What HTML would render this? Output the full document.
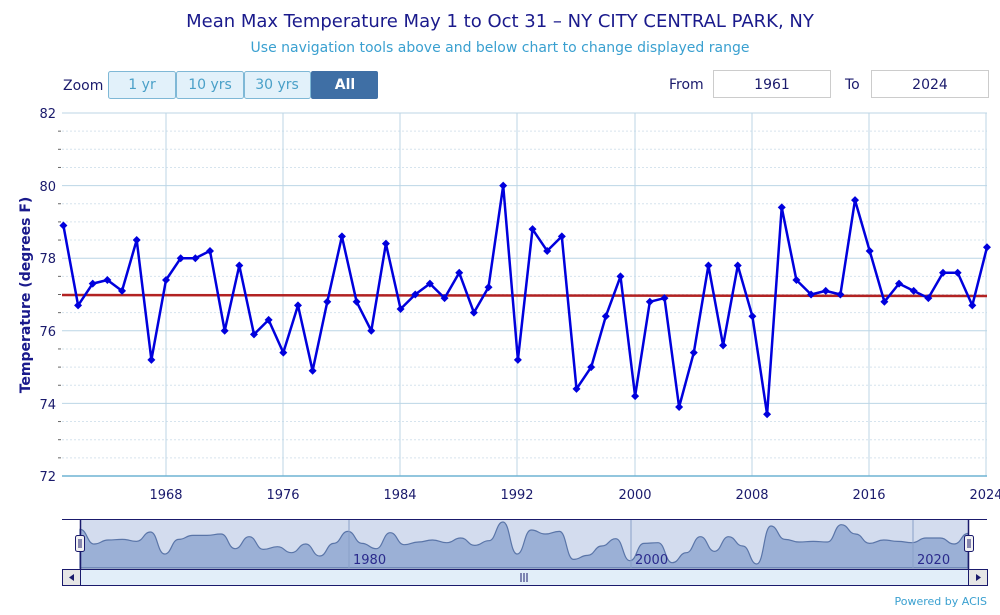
<!DOCTYPE html>
<html><head><meta charset="utf-8"><style>
body{margin:0;background:#fff;width:1000px;height:611px;overflow:hidden;font-family:"DejaVu Sans","Liberation Sans",sans-serif}
</style></head><body>
<svg id="s" width="1000" height="611" xmlns="http://www.w3.org/2000/svg" font-family="DejaVu Sans, Liberation Sans, sans-serif">
<text x="500" y="27" text-anchor="middle" font-size="18" fill="#1a1a8c">Mean Max Temperature May 1 to Oct 31 – NY CITY CENTRAL PARK, NY</text>
<text x="500" y="52" text-anchor="middle" font-size="14" fill="#3aa0d0">Use navigation tools above and below chart to change displayed range</text>
<text x="63" y="90" font-size="14" fill="#1a1a6c">Zoom</text>
<rect x="108.5" y="71.5" width="67" height="27" rx="2" fill="#e2f1fa" stroke="#7fb8d6"/>
<text x="142" y="89" text-anchor="middle" font-size="14" fill="#4aa0c8">1 yr</text>
<rect x="176.5" y="71.5" width="67" height="27" rx="2" fill="#e2f1fa" stroke="#7fb8d6"/>
<text x="210" y="89" text-anchor="middle" font-size="14" fill="#4aa0c8">10 yrs</text>
<rect x="244.5" y="71.5" width="66" height="27" rx="2" fill="#e2f1fa" stroke="#7fb8d6"/>
<text x="277" y="89" text-anchor="middle" font-size="14" fill="#4aa0c8">30 yrs</text>
<rect x="311" y="71" width="67" height="28" rx="2" fill="#3f6fa5"/>
<text x="345" y="89" text-anchor="middle" font-size="14" font-weight="bold" fill="#fff">All</text>
<text x="669" y="89" font-size="14" fill="#1a1a6c">From</text>
<rect x="713.5" y="70.5" width="117" height="27" fill="#fff" stroke="#ccc"/>
<text x="772" y="89" text-anchor="middle" font-size="14" fill="#1a1a6c">1961</text>
<text x="845" y="89" font-size="14" fill="#1a1a6c">To</text>
<rect x="871.5" y="70.5" width="117" height="27" fill="#fff" stroke="#ccc"/>
<text x="930" y="89" text-anchor="middle" font-size="14" fill="#1a1a6c">2024</text>
<g id="grid"></g>
<text transform="translate(30,295) rotate(-90)" text-anchor="middle" font-size="14" font-weight="bold" fill="#1a1a8c">Temperature (degrees F)</text>
<g font-size="13" fill="#1a1a6c" text-anchor="end">
<text x="56" y="118">82</text><text x="56" y="191">80</text><text x="56" y="263">78</text><text x="56" y="336">76</text><text x="56" y="409">74</text><text x="56" y="481">72</text>
</g>
<g font-size="13" fill="#1a1a6c" text-anchor="middle">
<text x="166" y="499">1968</text><text x="283" y="499">1976</text><text x="400" y="499">1984</text><text x="517" y="499">1992</text><text x="635" y="499">2000</text><text x="752" y="499">2008</text><text x="869" y="499">2016</text><text x="986" y="499">2024</text>
</g>
<line x1="62" y1="295" x2="987" y2="296" stroke="#b22222" stroke-width="2.5"/>
<polyline id="ser" fill="none" stroke="#0000dd" stroke-width="2.5" stroke-linejoin="round"/>
<g id="mk" fill="#0000dd"></g>
<rect x="62" y="519.5" width="925" height="49" fill="#fff" stroke="none"/>
<rect x="80" y="520" width="888" height="48" fill="#d3dcee"/>
<path id="nav" fill="#9bb0d6" stroke="#5a75a8" stroke-width="1.2"/>
<line x1="349" y1="520" x2="349" y2="568" stroke="#8aa0c8"/>
<line x1="631" y1="520" x2="631" y2="568" stroke="#8aa0c8"/>
<line x1="913" y1="520" x2="913" y2="568" stroke="#8aa0c8"/>
<g font-size="13" fill="#2a2a8c"><text x="353" y="564">1980</text><text x="635" y="564">2000</text><text x="917" y="564">2020</text></g>
<line x1="62" y1="519.5" x2="987" y2="519.5" stroke="#1a1a6c"/>
<line x1="80.5" y1="519.5" x2="80.5" y2="586" stroke="#1a1a6c" stroke-width="1.5"/>
<line x1="968.5" y1="519.5" x2="968.5" y2="586" stroke="#1a1a6c" stroke-width="1.5"/>
<rect x="75.5" y="535.5" width="9" height="16" rx="2" fill="#f2f2f2" stroke="#1a1a6c"/>
<line x1="79" y1="539" x2="79" y2="548" stroke="#1a1a6c"/><line x1="81" y1="539" x2="81" y2="548" stroke="#1a1a6c"/>
<rect x="964.5" y="535.5" width="9" height="16" rx="2" fill="#f2f2f2" stroke="#1a1a6c"/>
<line x1="968" y1="539" x2="968" y2="548" stroke="#1a1a6c"/><line x1="970" y1="539" x2="970" y2="548" stroke="#1a1a6c"/>
<rect x="62.5" y="569.5" width="925" height="16" fill="#e2eef9" stroke="#1a1a6c"/>
<rect x="62.5" y="569.5" width="18" height="16" fill="#e6e6e6" stroke="#1a1a6c"/>
<rect x="968.5" y="569.5" width="19" height="16" fill="#e6e6e6" stroke="#1a1a6c"/>
<path d="M74 574 L69 577.5 L74 581Z" fill="#1a1a6c"/><path d="M976 574 L981 577.5 L976 581Z" fill="#1a1a6c"/>
<g stroke="#1a1a6c"><line x1="521" y1="573" x2="521" y2="582"/><line x1="524" y1="573" x2="524" y2="582"/><line x1="527" y1="573" x2="527" y2="582"/></g>
<text x="987" y="605" text-anchor="end" font-size="11" fill="#3aa0d0">Powered by ACIS</text>
</svg>
<script>
var d=[78.9,76.7,77.3,77.4,77.1,78.5,75.2,77.4,78.0,78.0,78.2,76.0,77.8,75.9,76.3,75.4,76.7,74.9,76.8,78.6,76.8,76.0,78.4,76.6,77.0,77.3,76.9,77.6,76.5,77.2,80.0,75.2,78.8,78.2,78.6,74.4,75.0,76.4,77.5,74.2,76.8,76.9,73.9,75.4,77.8,75.6,77.8,76.4,73.7,79.4,77.4,77.0,77.1,77.0,79.6,78.2,76.8,77.3,77.1,76.9,77.6,77.6,76.7,78.3];
var NS="http://www.w3.org/2000/svg";
function X(i){return 63.4+i*14.66}function Y(v){return 113+(82-v)*36.3}
var g=document.getElementById('grid'),h='';
for(var v=72.5;v<82;v+=0.5){if(v%2==0)continue;var y=Y(v);h+='<line x1="62" y1="'+y+'" x2="987" y2="'+y+'" stroke="#d6e4ee" stroke-dasharray="2,2"/><line x1="58" y1="'+y+'" x2="61" y2="'+y+'" stroke="#666"/>';}
for(var v=74;v<=82;v+=2){var y=Y(v);h+='<line x1="62" y1="'+y+'" x2="987" y2="'+y+'" stroke="#bcd6e6"/>';}
[166,283,400,517,635,752,869,986].forEach(function(x){h+='<line x1="'+x+'" y1="113" x2="'+x+'" y2="476" stroke="#bcd6e6"/>';});
h+='<line x1="62" y1="476" x2="987" y2="476" stroke="#6fb3d3" stroke-width="1.5"/>';
g.innerHTML=h;
var p='',m='';d.forEach(function(v,i){var x=X(i),y=Y(v);p+=x.toFixed(1)+','+y.toFixed(1)+' ';m+='<path d="M'+x+' '+(y-4)+'L'+(x+4)+' '+y+'L'+x+' '+(y+4)+'L'+(x-4)+' '+y+'Z"/>';});
document.getElementById('ser').setAttribute('points',p);document.getElementById('mk').innerHTML=m;
function NX(i){return 80+i*14.1}function NY(v){return 522+(80-v)*6.67}
var s='M80 568 L80 '+NY(d[0]);
for(var i=1;i<d.length;i++){var x0=NX(i-1),x1=NX(i),y0=NY(d[i-1]),y1=NY(d[i]),c=(x1-x0)/2;s+=' C'+(x0+c)+' '+y0+' '+(x1-c)+' '+y1+' '+x1+' '+y1;}
s+=' L968 568Z';document.getElementById('nav').setAttribute('d',s);
</script>
</body></html>
